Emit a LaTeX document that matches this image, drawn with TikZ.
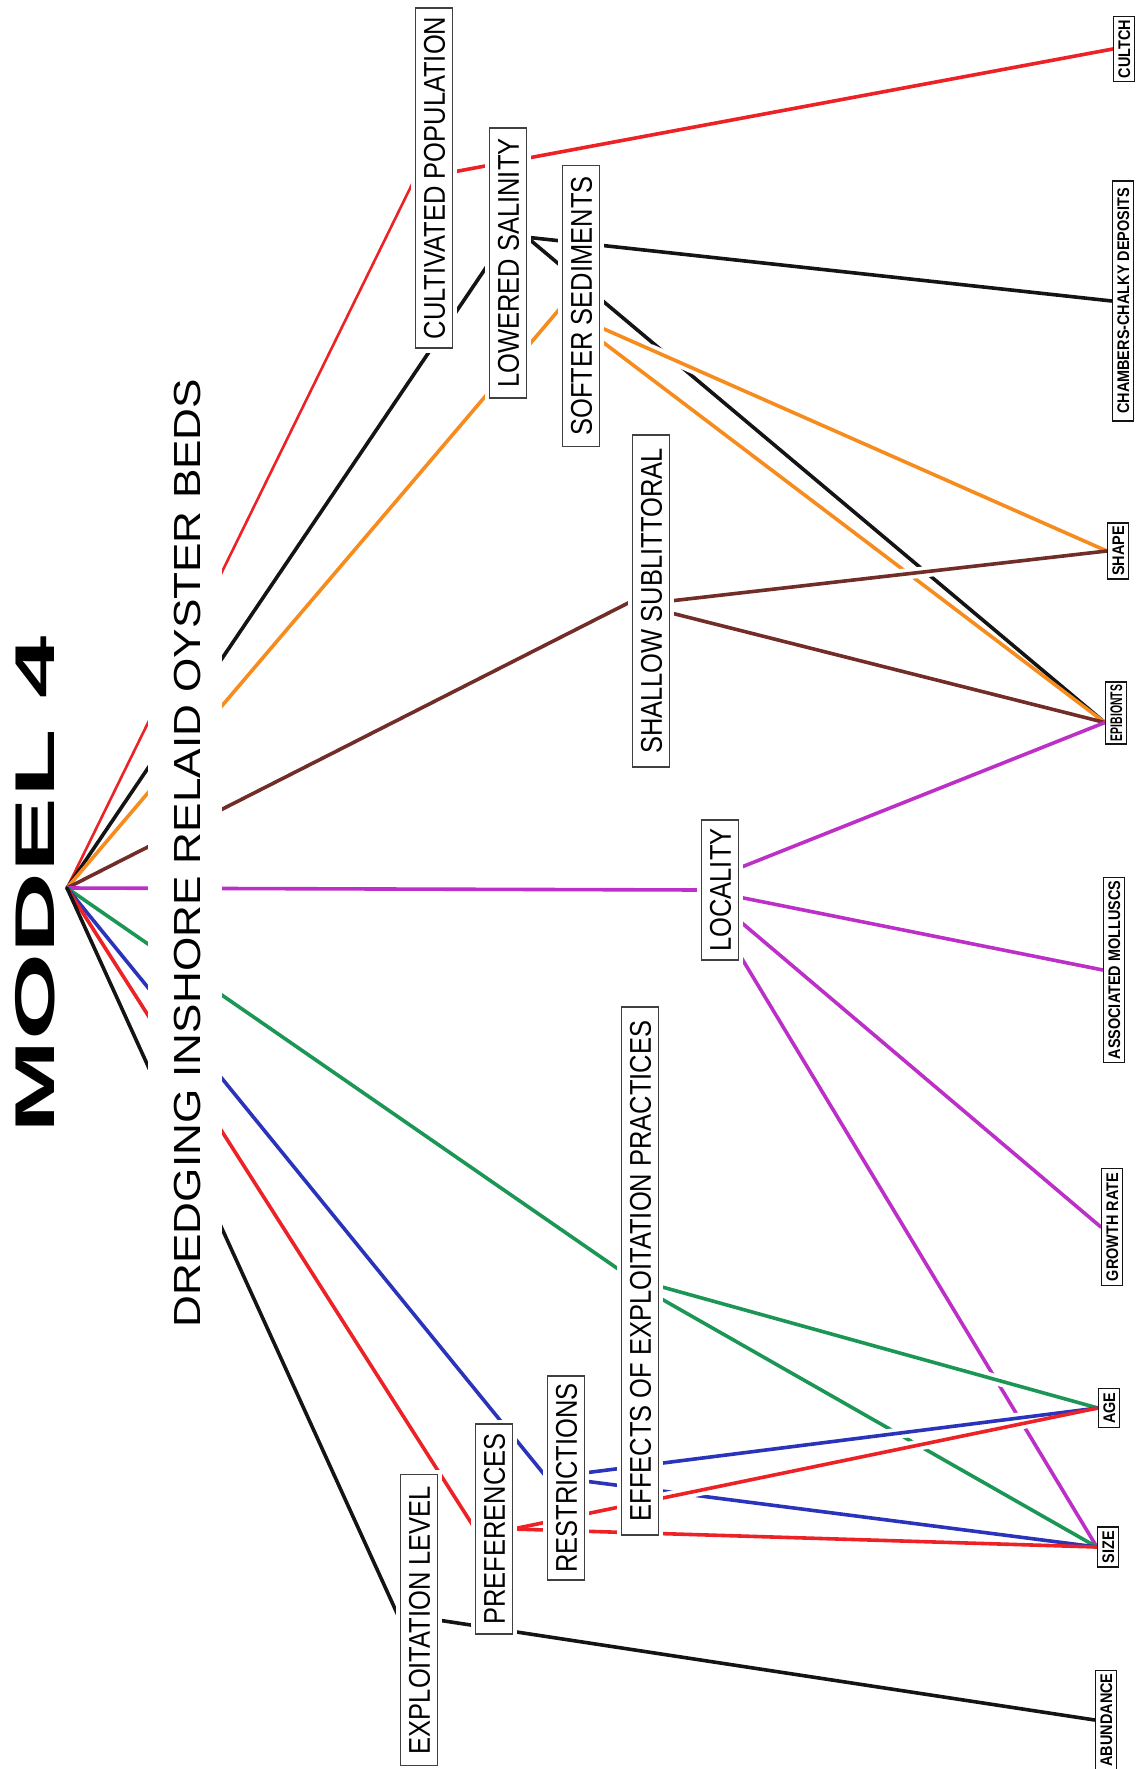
\documentclass[tikz,border=0pt]{standalone}
\usepackage{fontspec}
\setmainfont{Liberation Sans}
\usetikzlibrary{calc,backgrounds}

\definecolor{lred}{RGB}{236,34,38}
\definecolor{lorange}{RGB}{247,140,30}
\definecolor{lbrown}{RGB}{115,45,40}
\definecolor{lpurple}{RGB}{188,48,200}
\definecolor{lgreen}{RGB}{28,150,84}
\definecolor{lblue}{RGB}{42,52,186}
\definecolor{lblack}{RGB}{20,20,20}

\newcommand{\labtext}[1]{\scalebox{0.85}[1]{#1}}
\newcommand{\tagtext}[2][0.86]{\scalebox{#1}[1]{#2}}

\begin{document}
\begin{tikzpicture}[x=1pt, y=-1pt,
    lab/.style={draw=black!75, line width=1.3pt, fill=white, rotate=90,
      font=\fontsize{30}{30}\selectfont, text height=21.5pt, text depth=0pt,
      inner xsep=5pt, inner ysep=7.5pt, preaction={draw=white, line width=9pt}},
    tag/.style={draw=lblack, line width=1.3pt, fill=white, rotate=90,
      font=\bfseries\fontsize{16.8}{17}\selectfont, text height=12pt,
      text depth=0pt, inner xsep=3pt, inner ysep=4.5pt},
    link/.style={line width=3.6pt, line cap=round},
    halo/.style={draw=white, line width=11pt, shorten <=55pt, shorten >=30pt}]

  \useasboundingbox (0,0) rectangle (1136,1769);

  % headings
  \node[rotate=90, font=\bfseries\fontsize{56}{56}\selectfont] (model) at (35,885) {\scalebox{2}[1]{MODEL 4}};
  \node[rotate=90, fill=white, font=\fontsize{37.7}{38}\selectfont, text height=31pt,
    text depth=0pt, inner xsep=0pt, inner ysep=21.5pt] (topic) at (185,853)
    {\scalebox{1.17}[1]{DREDGING INSHORE RELAID OYSTER BEDS}};
  \coordinate (hub) at (67,888);

  % middle column
  \node[lab, minimum width=340pt] (cultpop) at (434,178) {\labtext{CULTIVATED POPULATION}};
  \node[lab, minimum width=270pt] (lowsal) at (508,263) {\labtext{LOWERED SALINITY}};
  \node[lab, minimum width=281pt] (softsed) at (581,306) {\labtext{SOFTER SEDIMENTS}};
  \node[lab, minimum width=332pt] (shallow) at (651,601) {\labtext{SHALLOW SUBLITTORAL}};
  \node[lab, minimum width=140pt] (locality) at (720,890) {\labtext{LOCALITY}};
  \node[lab, minimum width=528pt] (effects) at (640,1271) {\labtext{EFFECTS OF EXPLOITATION PRACTICES}};
  \node[lab, minimum width=204pt] (restrict) at (566,1478) {\labtext{RESTRICTIONS}};
  \node[lab, minimum width=210pt] (prefs) at (494,1529) {\labtext{PREFERENCES}};
  \node[lab, minimum width=291pt] (exlevel) at (419,1620) {\labtext{EXPLOITATION LEVEL}};

  % right column
  \node[tag, minimum width=64pt] (cultch) at (1124,49) {\tagtext{CULTCH}};
  \node[tag, minimum width=240pt] (chambers) at (1123,301) {\tagtext{CHAMBERS-CHALKY DEPOSITS}};
  \node[tag, minimum width=54pt] (shape) at (1118,551) {\tagtext{SHAPE}};
  \node[tag, minimum width=56pt] (epibionts) at (1116,713) {\tagtext[0.62]{EPIBIONTS}};
  \node[tag, minimum width=185pt] (molluscs) at (1114,970) {\tagtext{ASSOCIATED MOLLUSCS}};
  \node[tag, minimum width=117pt] (growth) at (1112,1227) {\tagtext{GROWTH RATE}};
  \node[tag, minimum width=39pt] (age) at (1109,1408) {\tagtext{AGE}};
  \node[tag, minimum width=40pt] (size) at (1108,1547) {\tagtext{SIZE}};
  \node[tag, minimum width=97pt] (abundance) at (1106,1720) {\tagtext{ABUNDANCE}};

  % where the lines leave and meet the boxes
  \coordinate (cp-out) at ($(cultpop.south)!0.035!(cultpop.south east)$);
  \coordinate (ls-out) at ($(lowsal.south)!0.19!(lowsal.south east)$);
  \coordinate (ss-out1) at ($(softsed.south)!0.15!(softsed.south west)$);
  \coordinate (ss-out2) at ($(softsed.south)!0.24!(softsed.south west)$);
  \coordinate (sh-out1) at (shallow.south);
  \coordinate (sh-out2) at ($(shallow.south)!0.07!(shallow.south west)$);
  \coordinate (lo-out1) at ($(locality.south)!0.31!(locality.south east)$);
  \coordinate (lo-out2) at ($(locality.south)!0.1!(locality.south west)$);
  \coordinate (lo-out3) at ($(locality.south)!0.43!(locality.south west)$);
  \coordinate (lo-out4) at ($(locality.south)!0.9!(locality.south west)$);
  \coordinate (ef-out1) at ($(effects.south)!0.057!(effects.south west)$);
  \coordinate (ef-out2) at ($(effects.south)!0.1!(effects.south west)$);
  \coordinate (re-out1) at ($(restrict.south)!0.05!(restrict.south east)$);
  \coordinate (re-out2) at ($(restrict.south)!0.03!(restrict.south west)$);
  \coordinate (ep-in) at ($(epibionts.north)!0.3!(epibionts.north west)$);

  \begin{scope}[on background layer]
    % fan from the heading
    \draw[link, lred, line width=2.6pt] (hub) -- (cultpop.north);
    \draw[link, lblack] (hub) -- (lowsal.north);
    \draw[link, lorange] (hub) -- (softsed.north);
    \draw[link, lbrown] (hub) -- (shallow.north);
    \draw[link, lpurple] (hub) -- (locality.north);
    \draw[link, lgreen] (hub) -- (effects.north);
    \draw[link, lblue] (hub) -- (restrict.north);
    \draw[link, lred] (hub) -- (prefs.north);
    \draw[link, lblack] (hub) -- (exlevel.north);

    % upper half
    \draw[link, lred] (cp-out) -- (cultch.north);
    \draw[link, lblack] (ls-out) -- (chambers.north);
    \draw[link, lblack] (ls-out) -- (ep-in);
    \draw[link, lorange] (ss-out2) -- (ep-in);
    \draw[link, lbrown] (sh-out2) -- (ep-in);
    \draw[link, lpurple] (lo-out1) -- (ep-in);
    \draw[halo] (ss-out1) -- (shape.north);
    \draw[halo] (sh-out1) -- (shape.north);
    \draw[link, lorange] (ss-out1) -- (shape.north);
    \draw[link, lbrown] (sh-out1) -- (shape.north);

    % lower half
    \draw[link, lpurple] (lo-out2) -- (molluscs.north);
    \draw[link, lpurple] (lo-out3) -- (growth.north);
    \draw[link, lpurple] (lo-out4) -- (size.north);
    \draw[link, lgreen] (ef-out2) -- (size.north);
    \draw[link, lblue] (re-out2) -- (size.north);
    \draw[link, lred] (prefs.south) -- (size.north);
    \draw[link, lblack] (exlevel.south) -- (abundance.north);
    \draw[halo] (ef-out1) -- (age.north);
    \draw[halo] (re-out1) -- (age.north);
    \draw[halo] (prefs.south) -- (age.north);
    \draw[link, lgreen] (ef-out1) -- (age.north);
    \draw[link, lblue] (re-out1) -- (age.north);
    \draw[link, lred] (prefs.south) -- (age.north);
  \end{scope}
\end{tikzpicture}
\end{document}
